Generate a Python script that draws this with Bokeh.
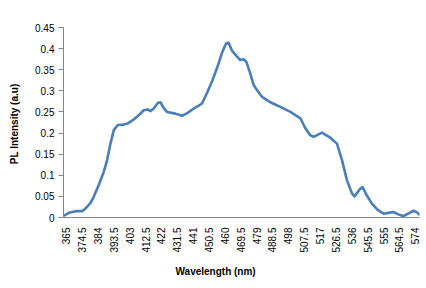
import math
from bokeh.plotting import figure
from bokeh.models import FixedTicker, Range1d, Title
from bokeh.embed import file_html
from bokeh.resources import INLINE

# Data
wavelength = [364.0, 366.6, 370.6, 374.6, 376.5, 379.5, 381.5, 384.5, 387.5, 389.5,
              391.5, 393.5, 395.9, 399.4, 402.4, 405.4, 408.4, 411.4, 413.8, 415.4,
              417.4, 420.0, 421.4, 423.4, 425.4, 430.4, 434.4, 437.4, 441.3, 444.3,
              446.3, 449.3, 452.3, 455.3, 458.3, 460.7, 462.2, 464.3, 466.9, 469.2,
              471.2, 472.8, 474.8, 477.2, 479.2, 482.2, 485.2, 487.2, 493.2, 499.2,
              505.2, 508.1, 511.1, 513.1, 518.1, 523.1, 527.1, 530.1, 533.1, 536.1,
              537.6, 541.0, 542.4, 545.0, 548.0, 551.5, 555.0, 558.0, 560.9, 563.5,
              566.9, 570.0, 572.9, 575.0, 576.3]
intensity = [0.005, 0.011, 0.015, 0.015, 0.021, 0.034, 0.049, 0.077, 0.108, 0.136,
             0.175, 0.207, 0.219, 0.220, 0.224, 0.232, 0.242, 0.254, 0.256, 0.252,
             0.258, 0.272, 0.273, 0.259, 0.250, 0.246, 0.241, 0.247, 0.258, 0.265,
             0.270, 0.295, 0.322, 0.354, 0.390, 0.412, 0.414, 0.395, 0.383, 0.373,
             0.375, 0.369, 0.346, 0.314, 0.302, 0.286, 0.278, 0.273, 0.262, 0.250,
             0.235, 0.212, 0.195, 0.191, 0.201, 0.189, 0.175, 0.136, 0.088, 0.057,
             0.050, 0.068, 0.072, 0.052, 0.033, 0.018, 0.009, 0.011, 0.013, 0.008,
             0.003, 0.010, 0.016, 0.012, 0.007]

x_ticks = [365 + 9.5 * k for k in range(23)]
y_ticks = [0.05 * k for k in range(10)]

p = figure(width=424, height=286, output_backend="svg", toolbar_location=None,
           x_range=Range1d(363.4, 576.5), y_range=Range1d(0, 0.45),
           min_border_left=63, min_border_right=5, min_border_top=27, min_border_bottom=69)
p.outline_line_color = None
p.xgrid.visible = False
p.ygrid.visible = False
p.background_fill_color = "white"
p.border_fill_color = "white"

p.line(wavelength, intensity, line_color="#4a7ebb", line_width=2.6, line_join="round", line_cap="round")

axis_color = "#868686"
font = "Liberation Sans"

xa = p.xaxis[0]
xa.ticker = FixedTicker(ticks=x_ticks)
xa.major_label_overrides = {t: f"{t:g}" for t in x_ticks}
xa.major_label_orientation = math.pi / 2
xa.major_label_standoff = 10
xa.major_tick_out = 0
xa.major_tick_in = 0
xa.minor_tick_out = 0
xa.minor_tick_in = 0
xa.axis_line_color = axis_color
xa.major_label_text_font = font
xa.major_label_text_font_size = "10px"
xa.major_label_text_color = "black"

ya = p.yaxis[0]
ya.ticker = FixedTicker(ticks=y_ticks)
ya.major_label_overrides = {t: f"{round(t, 2):g}" for t in y_ticks}
ya.major_label_standoff = 4
ya.major_tick_out = 5
ya.major_tick_in = 0
ya.minor_tick_out = 0
ya.minor_tick_in = 0
ya.axis_line_color = axis_color
ya.major_tick_line_color = axis_color
ya.major_label_text_font = font
ya.major_label_text_font_size = "10px"
ya.major_label_text_color = "black"
ya.axis_label = "PL Intensity  (a.u)"
ya.axis_label_text_font = font
ya.axis_label_text_font_size = "10px"
ya.axis_label_text_font_style = "bold"
ya.axis_label_text_color = "black"
ya.axis_label_standoff = 12

p.add_layout(Title(text="Wavelength (nm)", align="left", offset=112, standoff=17,
                   text_font=font, text_font_size="10px", text_font_style="bold",
                   text_color="black"), "below")

open("out.html", "w").write(file_html(p, INLINE))
